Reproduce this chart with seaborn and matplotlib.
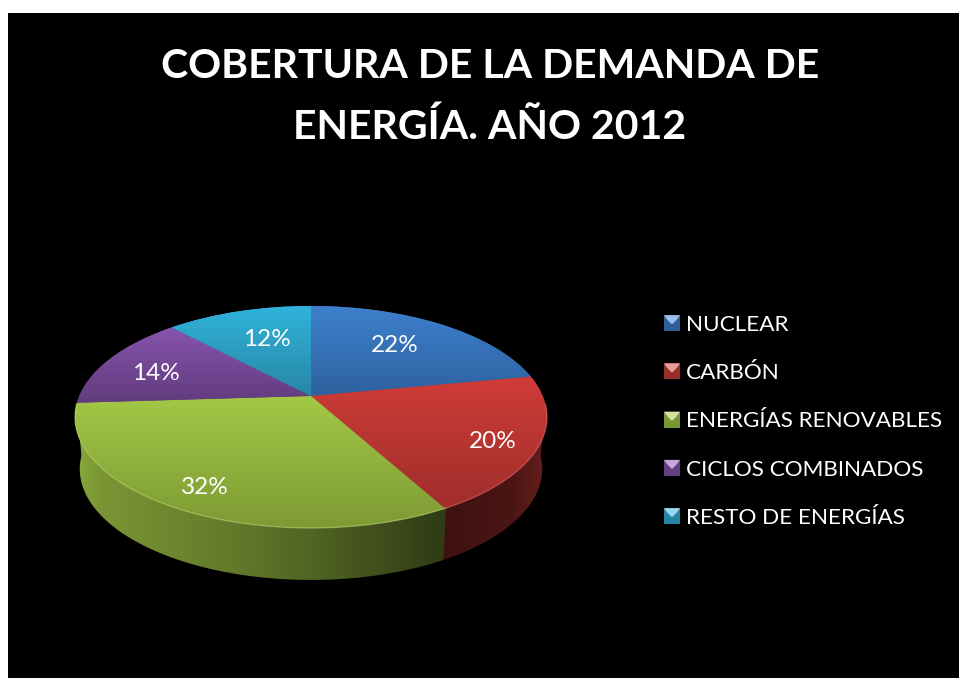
import numpy as np
import seaborn as sns
import matplotlib.pyplot as plt
from matplotlib.legend_handler import HandlerBase
from matplotlib.patches import Patch, Polygon, Rectangle
from matplotlib.transforms import Transform

TITLE = 'COBERTURA DE LA DEMANDA DE\nENERGÍA. AÑO 2012'
CATEGORIES = ['NUCLEAR', 'CARBÓN', 'ENERGÍAS RENOVABLES', 'CICLOS COMBINADOS', 'RESTO DE ENERGÍAS']
VALUES = [22, 20, 32, 14, 12]

TOP_COLORS = ['#3d7fcc', '#cf3c38', '#a2c846', '#8753ad', '#30b2da']
BOTTOM_COLORS = ['#2e62a0', '#a02e2b', '#7d9a34', '#623c7e', '#2887a6']
LABEL_RADII = [0.68, 0.82, 0.82, 0.74, 0.65]
LABEL_TURNS = [3.6, -1.8, 0, 2.6, -2.6]

# disc centre and perspective of the 3D look, in pixels of the picture
CX, CY = 311, 396
RX, RY, TILT = 231.7, 107, 0.189
DEPTH, BOTTOM_SCALE = 52, 0.98

# wall brightness against horizontal position on the disc
SHADE_X = [-1.0, -0.9, -0.3, 0.0, 0.55, 0.58, 0.85, 1.0]
SHADE_Y = [0.85, 0.75, 0.60, 0.50, 0.30, 0.30, 0.36, 0.50]


class DiscPerspective(Transform):
    input_dims = 2
    output_dims = 2

    def transform_non_affine(self, values):
        u, v = np.asarray(values).T
        w = 1 + TILT * v
        return np.column_stack([CX + RX * u / w, CY - RY * v / w])


class BevelHandler(HandlerBase):
    def create_artists(self, legend, orig_handle, xdescent, ydescent, width, height, fontsize, trans):
        base = orig_handle.get_facecolor()
        light = sns.blend_palette([base, 'white'], 5)[2]
        dark = sns.blend_palette([base, 'black'], 5)[1]
        x0, y0 = -xdescent, -ydescent
        square = Rectangle((x0, y0), width, height, facecolor=dark, linewidth=0, transform=trans)
        top = Polygon([(x0, y0 + height), (x0 + width, y0 + height), (x0 + width * 0.8, y0 + height * 0.72),
                       (x0 + width * 0.5, y0 + height * 0.42), (x0 + width * 0.2, y0 + height * 0.72)],
                      facecolor=light, linewidth=0, transform=trans)
        return [square, top]


sns.set_theme(style='dark', rc={'figure.facecolor': 'white', 'axes.facecolor': 'black'})
plt.rcParams['font.family'] = ['Lato', 'DejaVu Sans']

fig = plt.figure(figsize=(9.59, 6.78), dpi=100)
ax = fig.add_axes([8 / 959, 0, 951 / 959, 665 / 678])

wedges, texts, autotexts = ax.pie(VALUES, colors=TOP_COLORS, startangle=90, counterclock=False, autopct='%.0f%%',
                                  wedgeprops={'linewidth': 0}, textprops={'color': 'white', 'fontsize': 17.5})
ax.set_aspect('auto')
ax.set_frame_on(True)
persp = DiscPerspective()
shade_row = np.interp(np.linspace(-1, 1, 256), SHADE_X, SHADE_Y)

for wedge, top, bottom, label, radius, turn in zip(wedges, TOP_COLORS, BOTTOM_COLORS, autotexts, LABEL_RADII, LABEL_TURNS):
    wedge.set_transform(persp + ax.transData)
    wedge.set_zorder(2)

    # vertical gradient on the top face
    corners = persp.transform(wedge.get_path().vertices)
    gradient = np.array(sns.blend_palette([top, bottom], 64))[:, None, :]
    image = ax.imshow(gradient, extent=(corners[:, 0].min(), corners[:, 0].max(), corners[:, 1].max(), corners[:, 1].min()),
                      aspect='auto', origin='upper', interpolation='bilinear', zorder=3)
    image.set_clip_path(wedge)

    # outer wall of the slice, only the part that faces the viewer
    angles = np.radians(np.arange(wedge.theta1, wedge.theta2 + 0.5, 0.5))
    angles = angles[np.sin(angles) < -0.065]
    if len(angles):
        rim = persp.transform(np.column_stack([np.cos(angles), np.sin(angles)]))
        floor = np.column_stack([CX + (rim[:, 0] - CX) * BOTTOM_SCALE, rim[:, 1] + DEPTH])
        outline = Polygon(np.vstack([rim, floor[::-1]]), facecolor='none', linewidth=0, zorder=1)
        ax.add_patch(outline)
        base = np.array(sns.color_palette([top]))[0]
        wall = ax.imshow((shade_row[None, :, None] * base[None, None, :]).clip(0, 1),
                         extent=(CX - RX * 1.02, CX + RX * 1.02, 600, 380), aspect='auto', origin='upper',
                         interpolation='bilinear', zorder=1)
        wall.set_clip_path(outline)
        ax.plot(rim[:, 0], rim[:, 1], color=sns.blend_palette([top, 'white'], 5)[1], lw=1.0, alpha=0.55, zorder=4)

    middle = np.radians((wedge.theta1 + wedge.theta2) / 2 + turn)
    spot = persp.transform([[radius * np.cos(middle), radius * np.sin(middle)]])[0]
    label.set_position((spot[0], spot[1] + 2.5))
    label.set_zorder(5)

ax.set_xlim(8, 959)
ax.set_ylim(678, 13)
ax.set_xticks([])
ax.set_yticks([])
for spine in ax.spines.values():
    spine.set_visible(False)

ax.text(490, 97, TITLE, color='white', fontsize=29.5, fontweight='bold', ha='center', va='center', linespacing=1.76)

handles = [Patch(facecolor=color, label=name) for color, name in zip(TOP_COLORS, CATEGORIES)]
ax.legend(handles=handles, handler_map={Patch: BevelHandler()}, loc='upper left', bbox_to_anchor=(664, 315),
          bbox_transform=ax.transData, frameon=False, labelcolor='white', fontsize=16.2, borderpad=0,
          borderaxespad=0, handlelength=0.71, handleheight=0.71, handletextpad=0.27, labelspacing=1.255)

plt.savefig('out.png', dpi=100)
